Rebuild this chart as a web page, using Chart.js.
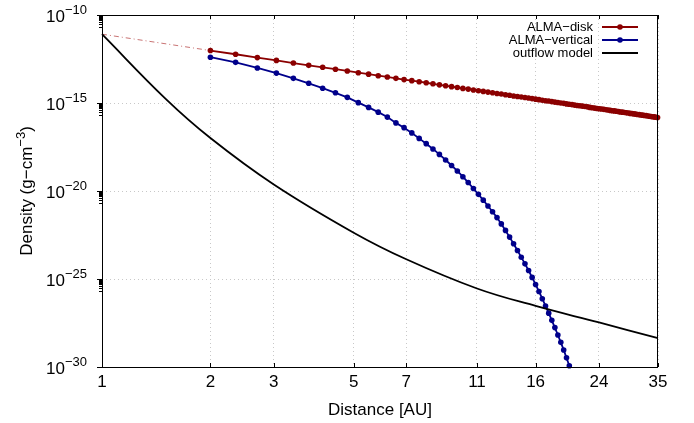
<!DOCTYPE html>
<html>
<head>
<meta charset="utf-8">
<title>Density vs distance</title>
<script src="https://cdn.jsdelivr.net/npm/chart.js@4.4.1/dist/chart.umd.min.js"></script>
<style>
    body { margin: 0; background: #fff; }
</style>
</head>
<body>
<canvas id="density" width="694" height="423"></canvas>
<script>
// distances (AU) of the ALMA samples
const distance = [
    2.00, 2.35, 2.70, 3.05, 3.40, 3.75, 4.10, 4.45, 4.80, 5.15,
    5.50, 5.85, 6.20, 6.55, 6.90, 7.25, 7.60, 7.95, 8.30, 8.65,
    9.00, 9.35, 9.70, 10.05, 10.40, 10.75, 11.10, 11.45, 11.80, 12.15,
    12.50, 12.85, 13.20, 13.55, 13.90, 14.25, 14.60, 14.95, 15.30, 15.65,
    16.00, 16.35, 16.70, 17.05, 17.40, 17.75, 18.10, 18.45, 18.80, 19.15,
    19.50, 19.85, 20.20, 20.55, 20.90, 21.25, 21.60, 21.95, 22.30, 22.65,
    23.00, 23.35, 23.70, 24.05, 24.40, 24.75, 25.10, 25.45, 25.80, 26.15,
    26.50, 26.85, 27.20, 27.55, 27.90, 28.25, 28.60, 28.95, 29.30, 29.65,
    30.00, 30.35, 30.70, 31.05, 31.40, 31.75, 32.10, 32.45, 32.80, 33.15,
    33.50, 33.85, 34.20, 34.55, 34.90
];

// log10 of density (g cm^-3)
const diskLogDensity = [
    -12.02, -12.23, -12.42, -12.58, -12.73, -12.86, -12.97, -13.08, -13.18, -13.28,
    -13.36, -13.45, -13.52, -13.60, -13.67, -13.73, -13.79, -13.85, -13.91, -13.97,
    -14.02, -14.07, -14.12, -14.17, -14.21, -14.26, -14.30, -14.34, -14.38, -14.42,
    -14.46, -14.49, -14.53, -14.56, -14.60, -14.63, -14.66, -14.69, -14.72, -14.75,
    -14.78, -14.81, -14.84, -14.87, -14.89, -14.92, -14.95, -14.97, -15.00, -15.02,
    -15.05, -15.07, -15.09, -15.12, -15.14, -15.16, -15.18, -15.20, -15.22, -15.25,
    -15.27, -15.29, -15.31, -15.33, -15.34, -15.36, -15.38, -15.40, -15.42, -15.44,
    -15.45, -15.47, -15.49, -15.51, -15.52, -15.54, -15.56, -15.57, -15.59, -15.60,
    -15.62, -15.63, -15.65, -15.66, -15.68, -15.69, -15.71, -15.72, -15.74, -15.75,
    -15.77, -15.78, -15.79, -15.81, -15.82
];

const verticalLogDensity = [
    -12.40, -12.69, -13.01, -13.30, -13.60, -13.88, -14.16, -14.42, -14.68, -14.98,
    -15.25, -15.52, -15.80, -16.13, -16.40, -16.70, -17.01, -17.31, -17.61, -17.92,
    -18.24, -18.55, -18.86, -19.19, -19.52, -19.86, -20.19, -20.52, -20.85, -21.18,
    -21.51, -21.87, -22.24, -22.62, -23.00, -23.38, -23.76, -24.14, -24.52, -24.91,
    -25.31, -25.71, -26.12, -26.53, -26.94, -27.35, -27.76, -28.18, -28.60, -29.03,
    -29.48, -29.93
];

// disk extrapolated inwards (dash-dot)
const extDistance = [1, 2];
const extLogDensity = [-11.09, -12.02];

const outflowDistance = [1, 1.5, 2, 3, 5, 7, 11, 16, 24, 35];
const outflowLogDensity = [-11.09, -14.75, -16.99, -19.63, -22.37, -23.88, -25.54, -26.53, -27.47, -28.36];

const xTickValues = [1, 2, 3, 5, 7, 11, 16, 24, 35];
const yTickExponents = [-10, -15, -20, -25, -30];

const seriesLabels = ['ALMA\u2212disk', 'ALMA\u2212vertical', 'outflow model'];
const RED = '#8b0000';
const BLUE = '#00008b';
const FONT = '"Liberation Sans", Arial, Helvetica, sans-serif';


function toPoints(xs, logs) {
    return xs.slice(0, logs.length).map(function(x, i) {
        return { x: x, y: Math.pow(10, logs[i]) };
    });
}


/* axis labels, ticks, frame and legend drawn gnuplot-style */
const gnuplotDecor = {
    id: 'gnuplotDecor',
    afterDraw(chart) {
        const ctx = chart.ctx;
        const area = chart.chartArea;
        const xs = chart.scales.x;
        const ys = chart.scales.y;
        ctx.save();

        // frame
        ctx.strokeStyle = '#000';
        ctx.lineWidth = 1;
        ctx.strokeRect(area.left + 0.5, area.top + 0.5, area.right - area.left - 1, area.bottom - area.top);

        // y ticks (outward) + minor ticks
        ctx.beginPath();
        yTickExponents.forEach(function(e) {
            let py = Math.round(ys.getPixelForValue(Math.pow(10, e))) + 0.5;
            ctx.moveTo(area.left - 5, py);
            ctx.lineTo(area.left, py);
            if (e > -30) {
                for (let k = 2; k <= 9; k++) {
                    let my = Math.round(ys.getPixelForValue(k * Math.pow(10, e - 1))) + 0.5;
                    ctx.moveTo(area.left - 3, my);
                    ctx.lineTo(area.left, my);
                }
            }
        });
        // x ticks (inward, bottom and top)
        xTickValues.forEach(function(v) {
            let px = Math.round(xs.getPixelForValue(v)) + 0.5;
            ctx.moveTo(px, area.bottom);
            ctx.lineTo(px, area.bottom - 4);
            ctx.moveTo(px, area.top);
            ctx.lineTo(px, area.top + 4);
        });
        ctx.stroke();

        ctx.fillStyle = '#000';

        // x tick labels
        ctx.font = '17px ' + FONT;
        ctx.textAlign = 'center';
        ctx.textBaseline = 'middle';
        xTickValues.forEach(function(v) {
            ctx.fillText(String(v), xs.getPixelForValue(v), 382);
        });

        // y tick labels 10^e
        yTickExponents.forEach(function(e) {
            let py = ys.getPixelForValue(Math.pow(10, e));
            let sup = '\u2212' + Math.abs(e);
            ctx.font = '13px ' + FONT;
            let supW = ctx.measureText(sup).width;
            let right = 87;
            ctx.textAlign = 'left';
            ctx.fillText(sup, right - supW, py - 5);
            ctx.font = '17px ' + FONT;
            ctx.textAlign = 'right';
            ctx.fillText('10', right - supW, py + 2);
        });

        // x title
        ctx.font = '17px ' + FONT;
        ctx.textAlign = 'center';
        ctx.fillText('Distance [AU]', (area.left + area.right) / 2, 410);

        // y title, rotated, with superscript
        ctx.save();
        ctx.translate(27, (area.top + area.bottom) / 2);
        ctx.rotate(-Math.PI / 2);
        let parts = [
            { t: 'Density (g\u2212cm', size: 17, dy: 0 },
            { t: '\u22123', size: 13, dy: -6 },
            { t: ')', size: 17, dy: 0 }
        ];
        let total = 0;
        parts.forEach(function(p) {
            ctx.font = p.size + 'px ' + FONT;
            p.w = ctx.measureText(p.t).width;
            total += p.w;
        });
        let cx = -total / 2;
        ctx.textAlign = 'left';
        parts.forEach(function(p) {
            ctx.font = p.size + 'px ' + FONT;
            ctx.fillText(p.t, cx, p.dy);
            cx += p.w;
        });
        ctx.restore();

        // legend
        const rows = [
            { color: RED, marker: true },
            { color: BLUE, marker: true },
            { color: '#000', marker: false }
        ];
        ctx.font = '13px ' + FONT;
        ctx.textAlign = 'right';
        rows.forEach(function(r, i) {
            let y = 27 + i * 13;
            ctx.fillStyle = '#000';
            ctx.fillText(seriesLabels[i], 593, y);
            ctx.strokeStyle = r.color;
            ctx.lineWidth = 1.8;
            ctx.beginPath();
            ctx.moveTo(602, y);
            ctx.lineTo(638, y);
            ctx.stroke();
            if (r.marker) {
                ctx.fillStyle = r.color;
                ctx.beginPath();
                ctx.arc(620, y, 2.8, 0, Math.PI * 2);
                ctx.fill();
            }
        });

        ctx.restore();
    }
};


let ctx = document.getElementById('density').getContext('2d');
let chart = new Chart(ctx, {
    type: 'line',
    data: {
        datasets: [{
            label: seriesLabels[0],
            data: toPoints(distance, diskLogDensity),
            borderColor: RED,
            backgroundColor: RED,
            borderWidth: 1.8,
            pointRadius: 2.8,
            pointBorderWidth: 0,
            clip: false,
            order: 3
        }, {
            label: seriesLabels[1],
            data: toPoints(distance, verticalLogDensity),
            borderColor: BLUE,
            backgroundColor: BLUE,
            borderWidth: 1.8,
            pointRadius: 2.8,
            pointBorderWidth: 0,
            clip: false,
            order: 2
        }, {
            label: 'disk extrapolation',
            data: toPoints(extDistance, extLogDensity),
            borderColor: 'rgba(170, 40, 40, 0.65)',
            borderWidth: 1,
            borderDash: [5, 3, 1, 3],
            pointRadius: 0,
            clip: false,
            order: 4
        }, {
            label: seriesLabels[2],
            data: toPoints(outflowDistance, outflowLogDensity),
            borderColor: '#000',
            borderWidth: 1.8,
            pointRadius: 0,
            tension: 0.4,
            clip: false,
            order: 1
        }]
    },
    options: {
        responsive: false,
        animation: false,
        devicePixelRatio: 1,
        layout: { padding: { left: 0, top: 15, right: 36, bottom: 0 } },
        plugins: {
            legend: { display: false },
            tooltip: { enabled: false }
        },
        scales: {
            x: {
                type: 'logarithmic',
                min: 1,
                max: 35,
                afterBuildTicks: function(scale) {
                    scale.ticks = xTickValues.map(function(v) { return { value: v }; });
                },
                afterFit: function(scale) { scale.height = 56; },
                ticks: { display: false },
                grid: { color: '#c8c8c8', lineWidth: 1, drawTicks: false },
                border: { display: false, dash: [1, 3] }
            },
            y: {
                type: 'logarithmic',
                min: 1e-30,
                max: 1e-10,
                afterBuildTicks: function(scale) {
                    scale.ticks = yTickExponents.map(function(e) { return { value: Math.pow(10, e) }; });
                },
                afterFit: function(scale) { scale.width = 102; },
                ticks: { display: false },
                grid: { color: '#c8c8c8', lineWidth: 1, drawTicks: false },
                border: { display: false, dash: [1, 3] }
            }
        }
    },
    plugins: [gnuplotDecor]
});
</script>
</body>
</html>
